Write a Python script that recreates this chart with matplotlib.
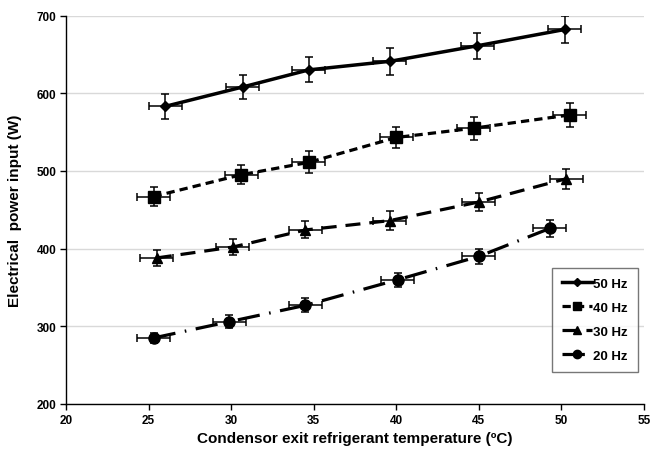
import matplotlib
matplotlib.use("Agg")
import matplotlib.pyplot as plt
import numpy as np

plt.rcParams['font.family'] = ['Liberation Sans', 'DejaVu Sans']

labels = ["50 Hz", "40 Hz", "30 Hz", "20 Hz"]
x50 = [26.0, 30.7, 34.7, 39.6, 44.9, 50.2]
y50 = [583, 608, 630, 641, 661, 682]
e50 = [16, 16, 16, 17, 17, 18]
x40 = [25.3, 30.6, 34.7, 40.0, 44.7, 50.5]
y40 = [467, 495, 511, 543, 555, 572]
e40 = [12, 12, 14, 14, 15, 15]
x30 = [25.5, 30.1, 34.5, 39.6, 45.0, 50.3]
y30 = [388, 402, 424, 436, 460, 490]
e30 = [10, 10, 11, 12, 12, 13]
x20 = [25.3, 29.9, 34.5, 40.1, 45.0, 49.3]
y20 = [285, 306, 327, 360, 390, 426]
e20 = [7, 8, 9, 9, 10, 11]
xerr = 1.0

xticks = [20, 25, 30, 35, 40, 45, 50, 55]
yticks = [200, 300, 400, 500, 600, 700]

W, H = 650, 452
L, R, T, B = 66, 644, 16.5, 405
fig = plt.figure(figsize=(W/100, H/100), dpi=100)
ax = fig.add_axes([L/W, 1-B/H, (R-L)/W, (B-T)/H])

styles = [
    dict(marker='D', ms=5, ls='-', lw=2.5),
    dict(marker='s', ms=8, ls=(0, (2.6, 1.6)), lw=2.3),
    dict(marker='^', ms=7.5, ls=(0, (4.7, 2.8)), lw=2.3),
    dict(marker='o', ms=8, ls=(0, (7, 3, 0.5, 3)), lw=2.3),
]
series = [(x50, y50, e50), (x40, y40, e40), (x30, y30, e30), (x20, y20, e20)]
for (xs, ys, es), st, lab in zip(series, styles, labels):
    ax.errorbar(xs, ys, yerr=es, xerr=xerr, fmt='none', ecolor='black',
                elinewidth=1.1, capsize=3, capthick=1.1, zorder=3)
    ax.plot(xs, ys, color='black', label=lab, zorder=4, **st)

ax.set_xlim(20, 55)
ax.set_ylim(200, 700)
ax.set_xticks(xticks)
ax.set_yticks(yticks)
ax.tick_params(labelsize=8.5, direction='out', length=4, width=1, pad=3)
for t in ax.get_xticklabels() + ax.get_yticklabels():
    t.set_fontweight('bold')
ax.yaxis.grid(True, color='#d9d9d9', lw=1)
ax.set_axisbelow(True)
for s in ['top', 'right']:
    ax.spines[s].set_visible(False)
for s in ['left', 'bottom']:
    ax.spines[s].set_color('black')
    ax.spines[s].set_linewidth(1)

ax.set_xlabel('Condensor exit refrigerant temperature (\u00baC)', fontsize=11, fontweight='bold', va='center')
ax.set_ylabel('Electrical  power input (W)', fontsize=11, fontweight='bold', va='center')
ax.xaxis.set_label_coords(0.5, -(439 - B) / (B - T))
ax.yaxis.set_label_coords(-(L - 15) / (R - L), 0.5)

leg = ax.legend(loc='lower right', bbox_to_anchor=((638 - L) / (R - L), (B - 373) / (B - T)),
                borderaxespad=0, prop={'weight': 'bold', 'size': 9.5}, frameon=True,
                fancybox=False, edgecolor='#555555', handlelength=2.3, labelspacing=0.9,
                borderpad=0.75, handletextpad=0.1, markerscale=0.75)
leg.get_frame().set_linewidth(1)

fig.savefig('out.png', dpi=100)
